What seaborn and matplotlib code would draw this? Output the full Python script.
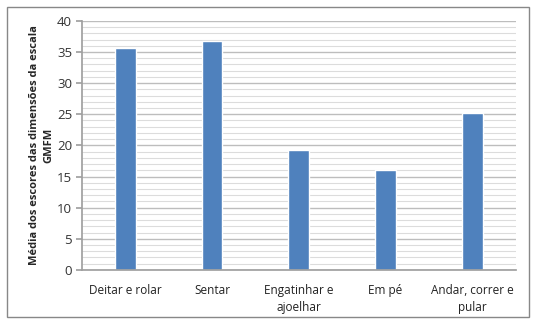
import matplotlib
matplotlib.use("Agg")
import matplotlib.pyplot as plt
import seaborn as sns
import pandas as pd
from matplotlib.ticker import MultipleLocator
from matplotlib.patches import Rectangle

categories = ["Deitar e rolar", "Sentar", "Engatinhar e\najoelhar", "Em pé", "Andar, correr e\npular"]
values = [35.6, 36.7, 19.2, 16.1, 25.2]
yticks = [0, 5, 10, 15, 20, 25, 30, 35, 40]
ylabel = "Média dos escores das dimensões da escala\nGMFM"

sns.set_theme(style="white")
plt.rcParams['font.family'] = ['Open Sans', 'DejaVu Sans']

df = pd.DataFrame({"cat": categories, "val": values})

fig = plt.figure(figsize=(5.35, 3.26), dpi=100)
ax = fig.add_axes([0.153, 0.172, 0.811, 0.764])

sns.barplot(data=df, x="cat", y="val", color="#4F81BD", width=0.24, ax=ax, saturation=1)

ax.set_ylim(0, 40)
ax.set_yticks(yticks)
ax.yaxis.set_minor_locator(MultipleLocator(1))
ax.grid(axis="y", which="major", color="#BDBDBD", linewidth=1.0)
ax.grid(axis="y", which="minor", color="#DCDCDC", linewidth=0.8)
ax.set_axisbelow(True)
for s in ["top", "right"]:
    ax.spines[s].set_visible(False)
ax.spines["left"].set_color("#A0A0A0")
ax.spines["bottom"].set_color("#A0A0A0")
ax.tick_params(axis="y", which="major", left=True, length=4, color="#A0A0A0", labelsize=9.5, pad=3, labelcolor="#333333")
ax.tick_params(axis="x", bottom=False, labelsize=8.5, pad=4, labelcolor="#222222")
for lbl in ax.get_xticklabels():
    lbl.set_linespacing(1.45)
ax.set_xlabel("")
ax.set_ylabel(ylabel, fontsize=8, fontweight="bold", labelpad=2, linespacing=1.45)

fig.patches.append(Rectangle((7/535, 9/326), (529-7)/535, (319-9)/326, transform=fig.transFigure,
                             fill=False, edgecolor="#888888", linewidth=1.0))

fig.savefig("out.png", dpi=100)
